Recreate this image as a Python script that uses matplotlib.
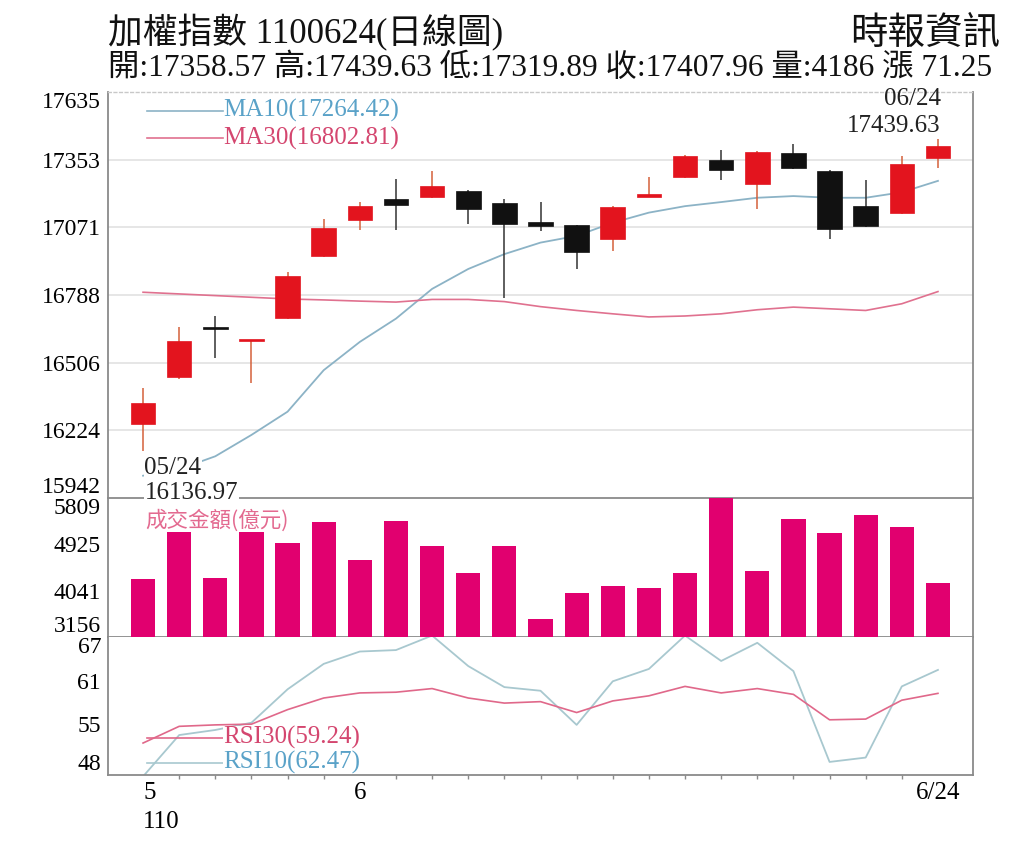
import numpy as np
import matplotlib
matplotlib.use('Agg')
import matplotlib.pyplot as plt

plt.rcParams['font.family'] = ['Liberation Serif', 'Noto Sans CJK TC', 'DejaVu Sans']

# 交易日 5/24 ~ 6/24
dates = ['05/24', '05/25', '05/26', '05/27', '05/28', '05/31',
         '06/01', '06/02', '06/03', '06/04', '06/07', '06/08', '06/09', '06/10', '06/11',
         '06/15', '06/16', '06/17', '06/18', '06/21', '06/22', '06/23', '06/24']

opens = [16250, 16446, 16650, 16596, 16692, 16950, 17100, 17190, 17198, 17222, 17173, 17093,
         17079, 17021, 17198, 17280, 17353, 17253, 17381, 17304, 17159, 17129, 17358.57]
highs = [16399, 16655, 16703, 16602, 16886, 17107, 17178, 17273, 17307, 17225, 17190, 17176,
         17082, 17160, 17281, 17372, 17392, 17390, 17418, 17308, 17267, 17367, 17439.63]
lows = [16136.97, 16440, 16526, 16420, 16690, 16945, 17059, 17059, 17195, 17083, 16775, 17056,
        16897, 16973, 17196, 17275, 17270, 17149, 17315, 17021, 17072, 17125, 17319.89]
closes = [16340, 16595, 16646, 16600, 16867, 17066, 17159, 17162, 17242, 17146, 17083, 17076,
          16966, 17157, 17208, 17367, 17309, 17385, 17319, 17063, 17076, 17336.71, 17407.96]

ma10 = [16035, 16062, 16116, 16205, 16302, 16475, 16593, 16690, 16814, 16897, 16959, 17007,
        17035, 17090, 17132, 17159, 17176, 17194, 17201, 17194, 17194, 17217, 17264.42]
ma30 = [16800, 16793, 16786, 16779, 16772, 16768, 16763, 16759, 16770, 16770, 16761, 16740,
        16724, 16710, 16697, 16701, 16710, 16727, 16738, 16731, 16724, 16752, 16802.81]

volume = [4257, 5166, 4282, 5166, 4945, 5357, 4626, 5376, 4899, 4384, 4893, 3494,
          4002, 4136, 4097, 4372, 5809, 4416, 5409, 5147, 5485, 5262, 4186]

rsi10 = [47.8, 53.5, 54.2, 55.2, 59.8, 63.3, 65.0, 65.2, 67.2, 63.0, 60.1, 59.6,
         54.9, 60.9, 62.6, 67.2, 63.7, 66.2, 62.3, 49.8, 50.4, 60.2, 62.47]
rsi30 = [52.4, 54.7, 54.9, 55.0, 57.0, 58.6, 59.3, 59.4, 59.9, 58.6, 57.9, 58.1,
         56.6, 58.2, 58.9, 60.2, 59.3, 59.9, 59.1, 55.6, 55.7, 58.3, 59.24]

price_ticks = [17635, 17353, 17071, 16788, 16506, 16224, 15942]
vol_ticks = [5809, 4925, 4041, 3156]
rsi_ticks = [67, 61, 55, 48]

RED = '#e3141e'
BLACK = '#111111'
VOL = '#e1006f'
MA10_C = '#8cb3c6'
MA30_C = '#e0718f'
RSI10_C = '#a8c8cf'
RSI30_C = '#e0688a'
GRAY = '#8a8a8a'

x = np.arange(len(dates))
n = len(dates)

fig = plt.figure(figsize=(10.24, 8.65), dpi=100)
L, W = 108 / 1024, 865 / 1024
ax1 = fig.add_axes([L, 1 - 498 / 865, W, 406 / 865])
ax2 = fig.add_axes([L, 1 - 637 / 865, W, 139 / 865], sharex=ax1)
ax3 = fig.add_axes([L, 1 - 775 / 865, W, 138 / 865], sharex=ax1)
ax2.patch.set_visible(False)

# K線
o = np.array(opens); c = np.array(closes)
up = c >= o
colors = np.where(up, RED, BLACK)
wick_colors = np.where(up, '#d4603a', '#333333')
ax1.vlines(x, lows, highs, colors=wick_colors, lw=1.1, zorder=3)
body_h = np.maximum(np.abs(c - o), 7)
body_b = np.minimum(o, c)
ax1.bar(x, body_h, bottom=body_b, width=0.68, color=colors, edgecolor=colors, lw=0.5, zorder=4)

ax1.plot(x, ma10, color=MA10_C, lw=1.3, zorder=2)
ax1.plot(x, ma30, color=MA30_C, lw=1.2, zorder=2)

ax1.set_ylim(price_ticks[-1], price_ticks[0])
ax1.set_yticks(price_ticks)
ax1.set_yticklabels([str(v) for v in price_ticks])
for v in price_ticks[1:-1]:
    ax1.axhline(v, color='#e2e2e2', lw=1.2, zorder=0)

# 圖例
for label, lc, tc, yy in [('MA10(17264.42)', MA10_C, '#5aa2c8', 0.954),
                          ('MA30(16802.81)', MA30_C, '#d4466f', 0.886)]:
    ax1.plot([0.045, 0.133], [yy, yy], color=lc, lw=1.2, transform=ax1.transAxes)
    ax1.text(0.133, yy, label, color=tc, fontsize=18, va='center', ha='left',
             transform=ax1.transAxes)

# 最高 / 最低 標示
i_hi = int(np.argmax(highs)); i_lo = int(np.argmin(lows))
white = dict(facecolor='white', edgecolor='none', pad=0.5)
ax1.annotate(f'{highs[i_hi]:.2f}', xy=(x[i_hi], highs[i_hi]), xytext=(2, 9),
             textcoords='offset points', ha='right', va='center', fontsize=18, color='#222')
ax1.annotate(dates[i_hi], xy=(x[i_hi], highs[i_hi]), xytext=(2, 29),
             textcoords='offset points', ha='right', va='center', fontsize=18, color='#222')
ax1.annotate(dates[i_lo], xy=(x[i_lo], lows[i_lo]), xytext=(1, -12),
             textcoords='offset points', ha='left', va='center', fontsize=18, color='#222',
             bbox=white, zorder=5)
ax1.annotate(f'{lows[i_lo]:.2f}', xy=(x[i_lo], lows[i_lo]), xytext=(1, -30),
             textcoords='offset points', ha='left', va='center', fontsize=18, color='#222',
             bbox=white, zorder=5, annotation_clip=False)

# 成交量
ax2.bar(x, np.array(volume) - vol_ticks[-1], bottom=vol_ticks[-1], width=0.67, color=VOL, zorder=3)
ax2.set_ylim(vol_ticks[-1], vol_ticks[0])
ax2.set_yticks(vol_ticks)
ax2.set_yticklabels([str(v) for v in vol_ticks])
ax2.text(0.043, 0.84, '成交金額(億元)', color='#e36a90', fontsize=15.5, va='center', ha='left',
         transform=ax2.transAxes, family=['Noto Sans CJK TC'], zorder=5)

# RSI
ax3.plot(x, rsi10, color=RSI10_C, lw=1.3)
ax3.plot(x, rsi30, color=RSI30_C, lw=1.2)
ax3.set_ylim(rsi_ticks[-1], rsi_ticks[0])
ax3.set_yticks(rsi_ticks)
ax3.set_yticklabels([str(v) for v in rsi_ticks])
for label, lc, tc, yy in [('RSI30(59.24)', RSI30_C, '#d4466f', 0.27),
                          ('RSI10(62.47)', RSI10_C, '#5aa2c8', 0.09)]:
    ax3.plot([0.045, 0.133], [yy, yy], color=lc, lw=1.2, transform=ax3.transAxes)
    ax3.text(0.133, yy, label, color=tc, fontsize=18, va='center', ha='left',
             transform=ax3.transAxes, bbox=dict(facecolor='white', edgecolor='none', pad=0.2))

ax1.set_xlim(-0.97, n - 1 + 0.97)
ax3.set_xticks([0, 6, n - 1])
ax3.set_xticklabels(['5\n110', '6', '6/24'])
ax3.set_xticks(x, minor=True)
ax3.tick_params(axis='x', which='major', length=0, labelsize=18, pad=5)
ax3.tick_params(axis='x', which='minor', length=3, color=GRAY, width=1)
xl = ax3.get_xticklabels()
xl[0].set_ha('left')
xl[0].set_linespacing(1.4)

for ax in (ax1, ax2, ax3):
    ax.tick_params(axis='y', length=0, labelsize=17, pad=5)
    for s in ('left', 'right', 'bottom', 'top'):
        ax.spines[s].set_color(GRAY)
        ax.spines[s].set_linewidth(1.3)
    labs = ax.get_yticklabels()
    labs[0].set_va('top')
    labs[-1].set_va('bottom')
for ax in (ax1, ax2):
    ax.tick_params(axis='x', which='both', length=0, labelbottom=False)
ax1.spines['top'].set_linestyle((0, (2, 2)))
ax1.spines['top'].set_color('#c8c8c8')
ax1.spines['top'].set_linewidth(1)
ax2.spines['top'].set_visible(False)
ax3.spines['top'].set_visible(False)

# 標題
fig.text(108 / 1024, 1 - 33 / 865, '加權指數 1100624(日線圖)', fontsize=25, va='center', ha='left',
         color='#111')
fig.text(1000 / 1024, 1 - 34 / 865, '時報資訊', fontsize=27, va='center', ha='right', color='#111')
fig.text(108 / 1024, 1 - 68 / 865,
         f'開:{opens[-1]:.2f} 高:{highs[-1]:.2f} 低:{lows[-1]:.2f} 收:{closes[-1]:.2f} '
         f'量:{volume[-1]} 漲 {closes[-1] - closes[-2]:.2f}',
         fontsize=22.6, va='center', ha='left', color='#111')

fig.savefig('out.png', dpi=100, facecolor='white')
